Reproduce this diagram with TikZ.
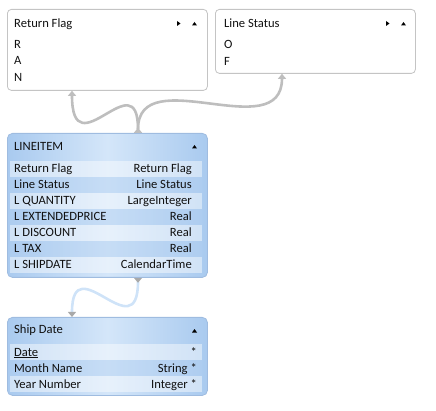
\documentclass[tikz,border=0pt]{standalone}
\usepackage{fontspec}
\setmainfont{Carlito}
\usetikzlibrary{arrows.meta}
\definecolor{bordergray}{HTML}{C4C4C4}
\definecolor{boxedge}{HTML}{A9CAEF}
\definecolor{boxmid}{HTML}{D4E6F9}
\definecolor{boxborder}{HTML}{9FBCE0}
\definecolor{stripedark}{HTML}{B3D0F1}
\definecolor{conngray}{HTML}{BEBEBE}
\definecolor{tipgray}{HTML}{A9A9A9}
\definecolor{connblue}{HTML}{CFE3F8}
\definecolor{txt}{HTML}{111111}
\tikzset{
  whitebox/.style={draw=bordergray, fill=white, rounded corners=4pt, line width=0.8pt,
    minimum width=200pt, inner sep=0pt, anchor=north west},
  bluebox/.style={draw=boxborder, left color=boxedge, right color=boxedge, middle color=boxmid,
    rounded corners=5pt, line width=0.8pt, minimum width=200pt, inner sep=0pt, anchor=north west},
  lightrow/.style={fill=white, fill opacity=0.45, draw=none, minimum width=192pt,
    minimum height=16pt, inner sep=0pt, anchor=north west},
  darkrow/.style={fill=stripedark, fill opacity=0.4, draw=none, minimum width=192pt,
    minimum height=16pt, inner sep=0pt, anchor=north west},
  lt/.style={anchor=base west, inner sep=0pt, text=txt, font=\fontsize{12.6}{14}\selectfont},
  rt/.style={anchor=base east, inner sep=0pt, text=txt, font=\fontsize{12.6}{14}\selectfont},
  icon/.style={fill=black, draw=none},
  conn/.style={draw=conngray, line width=2.6pt,
    {Triangle[reversed,width=8pt,length=5pt]}-{Triangle[width=8pt,length=5pt]}},
  connb/.style={draw=connblue, line width=2.6pt,
    {Triangle[reversed,width=8pt,length=5pt,color=tipgray]}-{Triangle[width=8pt,length=5pt,color=tipgray]}},
}
\begin{document}
\begin{tikzpicture}[x=1pt,y=-1pt]
\useasboundingbox (0,0) rectangle (436,411);

% ---------- Return Flag ----------
\node[whitebox, minimum height=81pt] (rf) at (7,9) {};
\node[lt] (rfh) at (14,27.5) {Return Flag};
\node[lt] (rf1) at (14,48.5) {R};
\node[lt] (rf2) at (14,65) {A};
\node[lt] (rf3) at (14,81.5) {N};
\fill[icon] (177,21) -- (180.5,23.5) -- (177,26) -- cycle;
\fill[icon] (192,25.5) -- (194.5,22) -- (197,25.5) -- cycle;

% ---------- Line Status ----------
\node[whitebox, minimum height=64pt] (ls) at (215,9) {};
\node[lt] (lsh) at (224,27.5) {Line Status};
\node[lt] (ls1) at (224,48.5) {O};
\node[lt] (ls2) at (224,65.5) {F};
\fill[icon] (386,21) -- (389.5,23.5) -- (386,26) -- cycle;
\fill[icon] (401,25.5) -- (403.5,22) -- (406,25.5) -- cycle;

% ---------- LINEITEM ----------
\node[bluebox, minimum height=144pt] (li) at (7,133) {};
\node[lightrow] (lir1) at (10,161) {};
\node[darkrow]  (lir2) at (10,177) {};
\node[lightrow] (lir3) at (10,193) {};
\node[darkrow]  (lir4) at (10,209) {};
\node[lightrow] (lir5) at (10,225) {};
\node[darkrow]  (lir6) at (10,241) {};
\node[lightrow] (lir7) at (10,257) {};
\node[lt] (lih) at (14,151) {LINEITEM};
\fill[icon] (192,148.5) -- (194.5,145) -- (197,148.5) -- cycle;
\node[lt] (lia1) at (14,173) {Return Flag};        \node[rt] (lib1) at (192,173) {Return Flag};
\node[lt] (lia2) at (14,189) {Line Status};        \node[rt] (lib2) at (192,189) {Line Status};
\node[lt] (lia3) at (14,205) {L QUANTITY};         \node[rt] (lib3) at (192,205) {LargeInteger};
\node[lt] (lia4) at (14,221) {L EXTENDEDPRICE};    \node[rt] (lib4) at (192,221) {Real};
\node[lt] (lia5) at (14,237) {L DISCOUNT};         \node[rt] (lib5) at (192,237) {Real};
\node[lt] (lia6) at (14,253) {L TAX};              \node[rt] (lib6) at (192,253) {Real};
\node[lt] (lia7) at (14,269) {L SHIPDATE};         \node[rt] (lib7) at (192,269) {CalendarTime};

% ---------- Ship Date ----------
\node[bluebox, minimum height=78pt] (sd) at (7,317) {};
\node[lightrow] (sdr1) at (10,344) {};
\node[darkrow]  (sdr2) at (10,360) {};
\node[lightrow] (sdr3) at (10,376) {};
\node[lt] (sdh) at (14,334) {Ship Date};
\fill[icon] (192,332.5) -- (194.5,329) -- (197,332.5) -- cycle;
\node[lt] (sda1) at (14,356) {\underline{Date}};   \node[rt] (sdb1) at (197,356) {*};
\node[lt] (sda2) at (14,372) {Month Name};         \node[rt] (sdb2) at (197,372) {String *};
\node[lt] (sda3) at (14,388) {Year Number};        \node[rt] (sdb3) at (197,388) {Integer *};

% ---------- connectors ----------
\draw[conn] ([xshift=131pt]li.north west) .. controls +(0,-73) and +(0,80) .. ([xshift=65pt]rf.south west);
\draw[conn] ([xshift=131pt]li.north west) .. controls +(0,-73) and +(0,73) .. ([xshift=67pt]ls.south west);
\draw[connb] ([xshift=131pt]li.south west) .. controls +(0,73) and +(0,-72) .. ([xshift=65pt]sd.north west);
\end{tikzpicture}
\end{document}
